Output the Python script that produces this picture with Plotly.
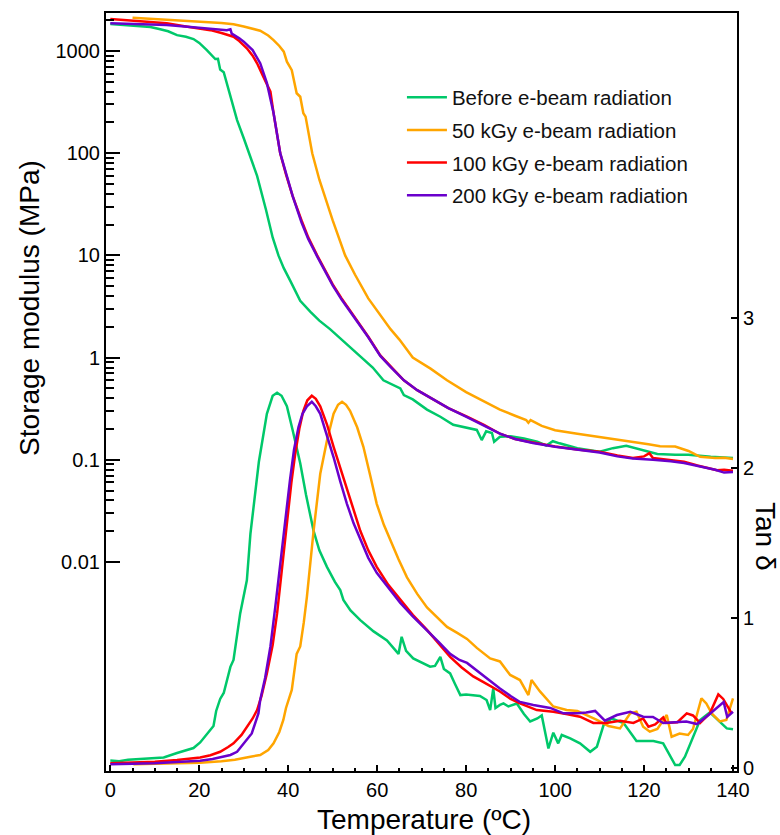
import plotly.graph_objects as go

# ---------------- data ----------------
series_names = ["Before e-beam radiation", "50 kGy e-beam radiation",
                "100 kGy e-beam radiation", "200 kGy e-beam radiation"]
series_colors = ["#00C86A", "#FFA500", "#FF0000", "#6A00CC"]

# Storage modulus (MPa)
green_E_T = [0, 3, 6, 9, 11, 13, 15, 17, 18.7, 20, 21.7, 23, 23.6, 24.2, 24.7, 25.5, 27, 28.5, 30, 31.5,
             33, 35, 36.5, 37.8, 39, 40.5, 42.7, 45, 47, 49.4, 52, 55, 57, 59, 61.4, 63, 65.2, 66, 68,
             71.2, 74.2, 77.1, 80, 82.4, 83.5, 84.5, 85.8, 86.3, 87.6, 90, 93, 96, 98, 99.5, 101, 105,
             110, 113, 116, 119, 123, 127, 130, 135, 140]
green_E = [1840, 1800, 1760, 1720, 1640, 1560, 1430, 1380, 1310, 1200, 1020, 900, 835, 840, 660, 620, 360,
           211, 140, 92, 60, 28, 15, 10, 7.5, 5.6, 3.6, 2.8, 2.3, 1.9, 1.5, 1.15, 0.95, 0.8, 0.6, 0.56,
           0.5, 0.43, 0.39, 0.31, 0.264, 0.22, 0.205, 0.196, 0.156, 0.19, 0.183, 0.15, 0.168, 0.17,
           0.162, 0.15, 0.138, 0.152, 0.145, 0.13, 0.12, 0.13, 0.137, 0.127, 0.114, 0.112, 0.112,
           0.107, 0.104]

orange_E_T = [5, 10, 15, 20, 25, 27.7, 30, 33.7, 35.5, 36.7, 38, 39, 39.7, 40.8, 41.9, 42.7, 43.4, 43.9,
              44.6, 45.4, 47, 48.5, 50, 52.8, 55, 58, 60, 63, 65, 68, 72, 75.7, 80, 84, 87.6, 91, 93.5,
              94, 94.5, 97, 100, 105, 110, 114, 117.5, 121, 123.6, 127, 130, 132.6, 136, 138, 140]
orange_E = [2120, 2060, 2000, 1950, 1880, 1825, 1740, 1580, 1420, 1280, 1120, 985, 786, 650, 386, 357,
            246, 228, 160, 100, 55, 35, 22, 10, 6.5, 3.8, 2.9, 1.9, 1.5, 1.0, 0.78, 0.6, 0.46, 0.37,
            0.31, 0.27, 0.245, 0.23, 0.245, 0.215, 0.195, 0.18, 0.168, 0.158, 0.15, 0.142, 0.136,
            0.135, 0.122, 0.107, 0.104, 0.105, 0.102]

red_E_T = [0, 5, 10, 12.7, 17, 22.5, 25, 27.7, 29, 30.7, 32, 33, 34.4, 36, 36.7, 38.2, 39.5, 41, 43,
           44.5, 46.5, 48, 50, 52, 55, 58, 60.7, 63, 66, 69, 72.6, 76, 80.2, 84, 87.6, 91, 95, 100,
           105, 110, 114, 117.5, 120, 121.2, 122, 125, 129, 132, 136.4, 138, 140]
red_E = [2055, 1990, 1900, 1866, 1740, 1600, 1500, 1380, 1250, 1063, 900, 758, 561, 400, 247, 100, 62,
         38, 22, 15, 10, 7.5, 5.2, 3.8, 2.5, 1.6, 1.05, 0.82, 0.6, 0.48, 0.39, 0.32, 0.264, 0.22,
         0.18, 0.16, 0.148, 0.135, 0.126, 0.12, 0.11, 0.104, 0.108, 0.116, 0.104, 0.1, 0.096, 0.088,
         0.079, 0.08, 0.078]

purple_E_T = [0, 5, 12.7, 18, 22, 26.2, 27, 27.3, 29, 30, 32, 33.7, 35.2, 36.7, 38.2, 39.5, 41, 43,
              44.5, 46.5, 48, 50, 52, 55, 58, 60.7, 63, 66, 69, 72.6, 76, 80.2, 84, 87.6, 91, 95, 100,
              105, 110, 114, 117.5, 122, 126, 129, 133, 136, 138, 140]
purple_E = [1865, 1840, 1795, 1720, 1650, 1600, 1630, 1480, 1330, 1234, 1020, 760, 487, 247, 100, 62,
            38, 21, 14.5, 9.8, 7.3, 5.1, 3.7, 2.45, 1.58, 1.04, 0.81, 0.6, 0.48, 0.39, 0.32, 0.262,
            0.218, 0.18, 0.16, 0.146, 0.134, 0.125, 0.118, 0.108, 0.103, 0.1, 0.097, 0.093, 0.085,
            0.08, 0.075, 0.076]

# Tan delta
green_tan_T = [0, 2, 4, 7, 10.5, 12, 15, 18.7, 20.2, 21.5, 22.5, 23.2, 23.8, 24.7, 25.5, 27, 27.7, 29.2,
               30.7, 31.5, 33.4, 35.2, 36.5, 37.5, 38.5, 39.7, 41, 42.7, 44, 45.7, 47, 48.7, 50.5, 51.7,
               52.4, 54, 56.2, 59.2, 62.2, 64.8, 65.5, 66.5, 68.1, 70, 71.9, 73, 74.2, 75, 76.4, 77.5,
               78.7, 80, 81.6, 83.1, 84.6, 85.4, 86.1, 86.6, 87.6, 88.4, 89.5, 91.4, 93, 94.4, 96, 97,
               98.5, 99.6, 100.7, 101.5, 103.4, 105.6, 107.9, 109.4, 110.9, 112.7, 115.4, 118.3, 122.1,
               124.3, 127, 128, 129.2, 132.6, 134.8, 137, 138.6, 140]
green_tan = [0.05, 0.045, 0.055, 0.06, 0.067, 0.07, 0.1, 0.133, 0.17, 0.22, 0.253, 0.28, 0.38, 0.46,
             0.5, 0.674, 0.72, 1.03, 1.25, 1.56, 2.04, 2.36, 2.48, 2.5, 2.48, 2.41, 2.25, 2.03, 1.82,
             1.58, 1.45, 1.34, 1.24, 1.185, 1.12, 1.05, 0.985, 0.91, 0.85, 0.76, 0.874, 0.78, 0.73,
             0.7, 0.675, 0.68, 0.74, 0.66, 0.63, 0.56, 0.486, 0.49, 0.486, 0.48, 0.453, 0.386, 0.53,
             0.4, 0.42, 0.43, 0.41, 0.43, 0.36, 0.31, 0.33, 0.35, 0.13, 0.235, 0.164, 0.22, 0.198,
             0.164, 0.108, 0.142, 0.286, 0.33, 0.3, 0.18, 0.18, 0.164, 0.02, 0.02, 0.075, 0.32, 0.37,
             0.31, 0.264, 0.258]

orange_tan_T = [5.2, 10, 15, 20.2, 25, 28, 31.5, 33.7, 35.5, 36.7, 38, 38.9, 39.5, 40.1, 40.8, 41.9,
                42.7, 43.5, 44.2, 45.7, 47.2, 48.7, 50.2, 51.2, 52.1, 53, 53.9, 55.5, 56.9, 58.5, 59.9,
                61.5, 62.9, 64.8, 66.7, 69, 71.2, 73.5, 75.7, 78, 80.2, 82.4, 84, 85.4, 87.6, 89.9,
                92.1, 94, 94.7, 96.6, 99.6, 102.6, 105, 107.1, 109.4, 112, 114.6, 116.9, 118.3, 119.8,
                121.3, 123, 125.1, 126.2, 128, 129.9, 131, 132.9, 134, 135.2, 137, 138.5, 140]
orange_tan = [0.025, 0.027, 0.03, 0.035, 0.045, 0.055, 0.075, 0.087, 0.12, 0.164, 0.24, 0.32, 0.4,
              0.453, 0.52, 0.76, 0.81, 0.97, 1.14, 1.58, 1.96, 2.18, 2.36, 2.42, 2.44, 2.42, 2.38,
              2.27, 2.14, 1.94, 1.76, 1.62, 1.52, 1.39, 1.27, 1.16, 1.07, 1.0, 0.94, 0.9, 0.86, 0.8,
              0.76, 0.73, 0.71, 0.62, 0.586, 0.486, 0.586, 0.51, 0.41, 0.386, 0.38, 0.353, 0.32, 0.28,
              0.264, 0.364, 0.375, 0.275, 0.242, 0.26, 0.353, 0.208, 0.23, 0.22, 0.26, 0.464, 0.43,
              0.364, 0.31, 0.32, 0.464]

red_tan_T = [0, 5, 10, 15, 20.2, 22.5, 24.7, 26.5, 27.7, 29.5, 30.7, 32, 33, 34, 35.2, 36.5, 37.5, 38.5,
             39.7, 40.7, 41.6, 42.5, 43.4, 44.3, 45.3, 46.2, 47.2, 48.7, 50.2, 51.7, 53.2, 54.7, 56.2,
             58, 59.9, 62.5, 65.2, 68, 71.2, 73.8, 76.4, 79, 81.6, 84, 87.6, 90, 92.1, 95.9, 99.6,
             102.5, 105.6, 108.6, 111.5, 114.6, 117.6, 119.8, 121, 122.5, 124.3, 125, 127.5, 129.6,
             131, 132.6, 134.8, 136.7, 137.8, 139.7]
red_tan = [0.031, 0.035, 0.042, 0.053, 0.07, 0.085, 0.108, 0.14, 0.164, 0.22, 0.275, 0.33, 0.386, 0.48,
           0.63, 0.82, 1.03, 1.3, 1.65, 1.9, 2.1, 2.26, 2.38, 2.45, 2.48, 2.46, 2.41, 2.29, 2.14, 2.0,
           1.85, 1.71, 1.58, 1.45, 1.34, 1.22, 1.12, 1.02, 0.92, 0.83, 0.74, 0.67, 0.61, 0.57, 0.51,
           0.46, 0.43, 0.386, 0.375, 0.36, 0.342, 0.3, 0.3, 0.315, 0.3, 0.33, 0.275, 0.29, 0.337,
           0.3, 0.305, 0.364, 0.35, 0.3, 0.364, 0.49, 0.46, 0.364]

purple_tan_T = [0, 5, 10, 15, 20.2, 23, 25.5, 27, 28.5, 30, 31.8, 33.3, 33.7, 34.8, 36, 37.2, 38.2,
                39.3, 40.4, 41.3, 42.3, 43.2, 44.2, 45.3, 46.2, 47.2, 48.7, 50.2, 51.7, 53.2, 54.7,
                56.2, 58, 59.9, 62.5, 65.2, 68, 71.2, 73.8, 76.4, 78.5, 80.2, 84, 87.6, 90, 92.1, 95.1,
                98.9, 101.9, 105, 107, 109, 111.2, 113.9, 116.9, 119.8, 122, 124.3, 127, 129.5, 131.9,
                134.5, 137.9, 138.7, 140]
purple_tan = [0.025, 0.027, 0.032, 0.04, 0.049, 0.06, 0.075, 0.087, 0.108, 0.164, 0.23, 0.364, 0.453,
              0.6, 0.81, 1.1, 1.36, 1.65, 1.92, 2.12, 2.27, 2.36, 2.41, 2.44, 2.41, 2.36, 2.22, 2.07,
              1.91, 1.76, 1.63, 1.52, 1.4, 1.3, 1.2, 1.1, 1.01, 0.92, 0.84, 0.76, 0.72, 0.7, 0.61,
              0.53, 0.48, 0.44, 0.42, 0.4, 0.364, 0.364, 0.37, 0.38, 0.315, 0.353, 0.375, 0.342, 0.34,
              0.3, 0.305, 0.31, 0.293, 0.353, 0.44, 0.34, 0.375]

x_ticks = [0, 20, 40, 60, 80, 100, 120, 140]
y_ticks = [0.01, 0.1, 1, 10, 100, 1000]
y_ticktext = ["0.01", "0.1", "1", "10", "100", "1000"]
y2_ticks = [0, 1, 2, 3]

# ---------------- figure ----------------
FONT = "Arial, Liberation Sans, sans-serif"
fig = go.Figure()

E_sets = [(green_E_T, green_E), (orange_E_T, orange_E), (red_E_T, red_E), (purple_E_T, purple_E)]
tan_sets = [(green_tan_T, green_tan), (orange_tan_T, orange_tan), (red_tan_T, red_tan),
            (purple_tan_T, purple_tan)]

for i, (name, col) in enumerate(zip(series_names, series_colors)):
    fig.add_trace(go.Scatter(x=E_sets[i][0], y=E_sets[i][1], mode="lines", name=name,
                             line=dict(color=col, width=2.5), legendgroup=f"g{i}",
                             showlegend=True, yaxis="y"))
for i, (name, col) in enumerate(zip(series_names, series_colors)):
    fig.add_trace(go.Scatter(x=tan_sets[i][0], y=tan_sets[i][1], mode="lines", name=name,
                             line=dict(color=col, width=2.5), legendgroup=f"g{i}",
                             showlegend=False, yaxis="y2"))

minor_vals = [m * 10 ** k for k in range(-2, 4) for m in range(2, 10) if m * 10 ** k <= 2300]

fig.update_layout(
    width=780, height=835,
    margin=dict(l=106, r=43, t=13, b=64),
    paper_bgcolor="white", plot_bgcolor="white",
    font=dict(family=FONT, size=20, color="black"),
    showlegend=True,
    legend=dict(x=0.469, y=0.915, xanchor="left", yanchor="top",
                font=dict(family=FONT, size=20.5, color="#111"),
                bgcolor="rgba(0,0,0,0)", tracegroupgap=3, itemwidth=40),
    xaxis=dict(range=[-0.97, 140.9], tickvals=x_ticks, ticks="inside", ticklen=6, tickwidth=1.5,
               tickcolor="black", showline=True, linecolor="black", linewidth=2, mirror=True,
               showgrid=False, zeroline=False, tickfont=dict(size=20),
               minor=dict(dtick=5, ticks="inside", ticklen=3, tickwidth=1.5, tickcolor="black",
                          showgrid=False)),
    yaxis=dict(type="log", range=[-4.045, 3.372], tickvals=y_ticks, ticktext=y_ticktext,
               ticks="inside", ticklen=14, tickwidth=2, tickcolor="black", showline=True,
               linecolor="black", linewidth=2, showgrid=False, zeroline=False,
               tickfont=dict(size=20),
               minor=dict(tickvals=minor_vals, ticks="inside", ticklen=8, tickwidth=1.5,
                          tickcolor="black", showgrid=False)),
    yaxis2=dict(overlaying="y", side="right", range=[-0.02, 5.03], tickvals=y2_ticks,
                ticks="inside", ticklen=6, tickwidth=1.5, tickcolor="black", showline=True,
                linecolor="black", linewidth=2, showgrid=False, zeroline=False,
                tickfont=dict(size=20)),
    annotations=[
        dict(text="Storage modulus (MPa)", xref="paper", yref="paper", x=-0.1204, y=0.611,
             textangle=-90, showarrow=False, font=dict(size=28, family=FONT),
             xanchor="center", yanchor="middle"),
        dict(text="Tan δ", xref="paper", yref="paper", x=1.044, y=0.309,
             textangle=90, showarrow=False, font=dict(size=28, family=FONT),
             xanchor="center", yanchor="middle"),
        dict(text="Temperature (ºC)", xref="paper", yref="paper", x=0.504, y=-0.0646,
             showarrow=False, font=dict(size=28, family=FONT),
             xanchor="center", yanchor="middle"),
    ],
)

fig.write_html("out.html")
